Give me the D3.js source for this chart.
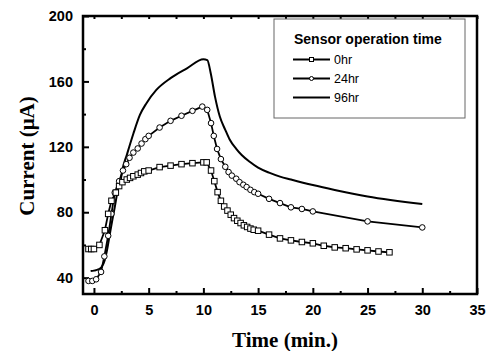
<!DOCTYPE html>
<html>
<head>
<meta charset="utf-8">
<script src="https://cdn.jsdelivr.net/npm/d3@7"></script>
<style>
  body { margin: 0; background: #fff; }
  svg { display: block; }
</style>
</head>
<body>
<div id="chart"></div>
<script>
// values
const seriesNames = ["0hr", "24hr", "96hr"];

const time0 = [-0.5, -0.25, 0, 0.5, 1.0, 1.3, 1.6, 2.0, 2.3, 2.6, 3.0, 3.3, 3.6, 4.0, 4.3, 4.6, 5.0,
  6, 7, 8, 9, 10, 10.3, 10.7, 11.0, 11.3, 11.6, 11.9, 12.2, 12.5, 12.8, 13.1, 13.4, 13.7, 14.0, 14.3, 14.6,
  15, 16, 17, 18, 19, 20, 21, 22, 23, 24, 25, 26, 27];
const current0 = [57.5, 57.5, 57.5, 60, 69, 79, 87, 92, 96, 98.4, 100, 101, 102, 103, 104, 105, 105.5,
  107.6, 108.5, 109.4, 110, 110.5, 110.5, 105.5, 99, 92.3, 87, 83.5, 81, 78.5, 76.4, 74.8, 73.4, 72, 71, 70, 69.3,
  68.7, 66.3, 64, 62.8, 61.8, 61, 59.5, 58.5, 58, 57.3, 56.7, 56, 55.5];

const time24 = [-0.5, -0.15, 0.2, 0.65, 0.95, 1.3, 1.6, 1.9, 2.3, 2.65, 2.95, 3.25, 3.6, 4.0, 4.35, 4.7, 5.0,
  6, 7, 8, 9, 9.9, 10.35, 10.7, 10.95, 11.25, 11.6, 12.0, 12.3, 12.6, 13.0, 13.3, 13.65, 13.95, 14.3, 14.65,
  15, 16, 17, 18, 19, 20, 25, 30];
const current24 = [38, 38, 39, 43.5, 53, 65.6, 79, 92, 99, 105.5, 109.4, 113.3, 116.5, 119, 122, 124.7, 126.7,
  131.8, 135.9, 139, 142, 144.6, 142.6, 134.5, 126.7, 118.7, 112.5, 107.8, 104.6, 102.4, 100.5, 98.4, 96.8, 95.4, 93.7, 92.3,
  91.3, 88.2, 85.6, 83, 82, 80.5, 74.4, 70.7];

const time96 = [-0.3, 0, 0.4, 0.7, 1.0, 1.2, 1.46, 1.7, 1.9, 2.2, 2.4, 2.6, 3.0, 3.6, 4.2, 4.8, 5.7, 7, 8.5, 10,
  10.36, 10.67, 11.06, 11.5, 12.0, 12.4, 13.0, 13.5, 14.2, 15, 16, 17, 18, 20, 22, 25, 30];
const current96 = [44, 44.3, 45, 46.5, 51, 57, 67, 76, 83, 94, 98, 106, 115, 128, 139.5, 146.7, 154.8, 162, 168, 173.5,
  173, 165, 150.7, 138.5, 130.4, 124.5, 118.8, 115, 111, 107.3, 104.2, 101.8, 100, 96.6, 93.6, 89.6, 85];

const xTicks = [0, 5, 10, 15, 20, 25, 30, 35];
const xMinorTicks = [2.5, 7.5, 12.5, 17.5, 22.5, 27.5, 32.5];
const yTicks = [40, 80, 120, 160, 200];
const yMinorTicks = [60, 100, 140, 180];

const W = 489, H = 351;
const margin = { top: 16, right: 12, bottom: 57, left: 83 };
const width = W - margin.left - margin.right,
  height = H - margin.top - margin.bottom;

const svg = d3.select("#chart").append("svg")
  .attr("width", W)
  .attr("height", H);

const g = svg.append("g")
  .attr("transform", "translate(" + margin.left + "," + margin.top + ")");

const x = d3.scaleLinear().domain([-1, 35]).range([0, width]);
const y = d3.scaleLinear().domain([30, 200]).range([height, 0]);

// axes with inward ticks
g.append("g")
  .attr("transform", "translate(0," + height + ")")
  .call(d3.axisBottom(x).tickValues(xTicks).tickSize(-6).tickSizeOuter(0).tickPadding(11));
g.append("g")
  .attr("transform", "translate(0," + height + ")")
  .call(d3.axisBottom(x).tickValues(xMinorTicks).tickSize(-3).tickSizeOuter(0).tickFormat(""));
g.append("g")
  .call(d3.axisTop(x).tickValues(xTicks.concat(xMinorTicks)).tickSize(-3).tickSizeOuter(0).tickFormat(""));

g.append("g")
  .call(d3.axisLeft(y).tickValues(yTicks).tickSize(-6).tickSizeOuter(0).tickPadding(10));
g.append("g")
  .call(d3.axisLeft(y).tickValues(yMinorTicks).tickSize(-3).tickSizeOuter(0).tickFormat(""));

g.selectAll(".domain").remove();
g.selectAll(".tick line").attr("stroke", "#000").attr("stroke-width", 2);
g.selectAll(".tick text")
  .attr("fill", "#000")
  .style("font-family", "'Liberation Sans', Arial, sans-serif")
  .style("font-weight", "bold")
  .style("font-size", "14.5px");

// frame
g.append("rect")
  .attr("x", 0).attr("y", 0)
  .attr("width", width).attr("height", height)
  .attr("fill", "none")
  .attr("stroke", "#000")
  .attr("stroke-width", 2.5);

const pts = (ts, vs) => ts.map((t, i) => ({ t: t, v: vs[i] }));
const data0 = pts(time0, current0);
const data24 = pts(time24, current24);
const data96 = pts(time96, current96);

const line = d3.line().x(d => x(d.t)).y(d => y(d.v));
const smooth = d3.line().x(d => x(d.t)).y(d => y(d.v)).curve(d3.curveMonotoneX);

g.append("path").datum(data96)
  .attr("d", smooth)
  .attr("fill", "none").attr("stroke", "#000").attr("stroke-width", 2);

g.append("path").datum(data24)
  .attr("d", line)
  .attr("fill", "none").attr("stroke", "#000").attr("stroke-width", 1.8);

g.append("path").datum(data0)
  .attr("d", line)
  .attr("fill", "none").attr("stroke", "#000").attr("stroke-width", 1.8);

g.selectAll("circle.m24")
  .data(data24)
  .enter()
  .append("circle")
  .attr("class", "m24")
  .attr("cx", d => x(d.t))
  .attr("cy", d => y(d.v))
  .attr("r", 2.8)
  .attr("fill", "#fff").attr("stroke", "#000").attr("stroke-width", 1);

g.selectAll("rect.m0")
  .data(data0)
  .enter()
  .append("rect")
  .attr("class", "m0")
  .attr("x", d => x(d.t) - 2.75)
  .attr("y", d => y(d.v) - 2.75)
  .attr("width", 5.5).attr("height", 5.5)
  .attr("fill", "#fff").attr("stroke", "#000").attr("stroke-width", 1);

// axis titles
svg.append("text")
  .attr("x", 285)
  .attr("y", 347)
  .style("font-family", "'Liberation Serif', 'Times New Roman', serif")
  .style("font-weight", "bold")
  .style("font-size", "21px")
  .style("text-anchor", "middle")
  .text("Time (min.)");

svg.append("text")
  .attr("transform", "translate(34,156) rotate(-90)")
  .style("font-family", "'Liberation Serif', 'Times New Roman', serif")
  .style("font-weight", "bold")
  .style("font-size", "21px")
  .style("text-anchor", "middle")
  .text("Current (μA)");

// legend
const legend = svg.append("g");
legend.append("rect")
  .attr("x", 274).attr("y", 19)
  .attr("width", 191).attr("height", 99)
  .attr("fill", "#fff")
  .attr("stroke", "#666")
  .attr("stroke-width", 1);

legend.append("text")
  .attr("x", 294).attr("y", 44)
  .style("font-family", "'Liberation Sans', Arial, sans-serif")
  .style("font-weight", "bold")
  .style("font-size", "14px")
  .text("Sensor operation time");

const rowY = [64, 83, 102];
seriesNames.forEach((name, i) => {
  const ly = rowY[i] - 4.5;
  legend.append("line")
    .attr("x1", 293).attr("x2", 330)
    .attr("y1", ly).attr("y2", ly)
    .attr("stroke", "#000").attr("stroke-width", i == 2 ? 2 : 1.8);
  if (i == 0) {
    legend.append("rect")
      .attr("x", 309.5).attr("y", ly - 2)
      .attr("width", 4).attr("height", 4)
      .attr("fill", "#fff").attr("stroke", "#000").attr("stroke-width", 1);
  } else if (i == 1) {
    legend.append("circle")
      .attr("cx", 311.5).attr("cy", ly)
      .attr("r", 2)
      .attr("fill", "#fff").attr("stroke", "#000").attr("stroke-width", 1);
  }
  legend.append("text")
    .attr("x", 334).attr("y", rowY[i])
    .style("font-family", "'Liberation Sans', Arial, sans-serif")
    .style("font-size", "12.5px")
    .text(name);
});
</script>
</body>
</html>
